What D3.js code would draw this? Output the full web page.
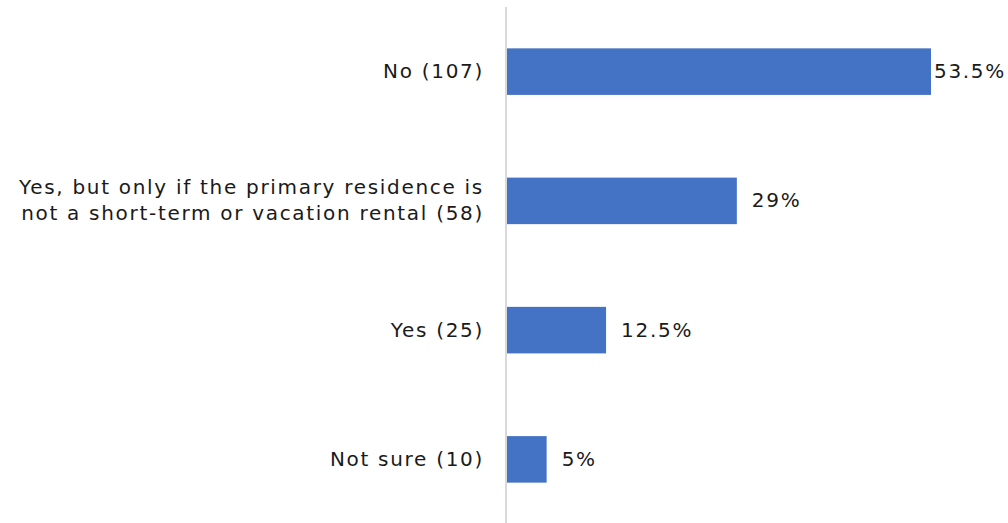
<!DOCTYPE html>
<html>
<head>
<meta charset="utf-8">
<script src="https://cdn.jsdelivr.net/npm/d3@7"></script>
<style>
  html, body { margin: 0; padding: 0; background: #ffffff; }
  svg { display: block; }
  text { font-family: "DejaVu Sans", sans-serif; fill: #1a1a1a; letter-spacing: 1.7px; }
</style>
</head>
<body>
<svg id="chart" width="1008" height="523"></svg>
<script>
// Survey answers (label lines) and their shares in percent
const categories = [
  ["No (107)"],
  ["Yes, but only if the primary residence is", "not a short-term or vacation rental (58)"],
  ["Yes (25)"],
  ["Not sure (10)"]
];
const values = [53.5, 29, 12.5, 5];
const valueLabels = ["53.5%", "29%", "12.5%", "5%"];

const W = 1008, H = 523;
const axisX = 507;
const svg = d3.select("#chart");

const x = d3.scaleLinear().domain([0, 53.5]).range([axisX, 931]);
const y = d3.scaleBand().domain(d3.range(categories.length)).range([7, 524]).paddingInner(0.64).paddingOuter(0.32);

// Bars
svg.append("g").selectAll("rect")
  .data(values)
  .join("rect")
  .attr("x", x(0))
  .attr("y", (d, i) => y(i))
  .attr("width", d => x(d) - x(0))
  .attr("height", y.bandwidth())
  .attr("fill", "#4472C4");

// Vertical category axis line
svg.append("line")
  .attr("x1", axisX - 1).attr("x2", axisX - 1)
  .attr("y1", 7).attr("y2", H)
  .attr("stroke", "#d9d9d9").attr("stroke-width", 2);

// Category labels, right-aligned left of the axis
const fs = 20, lh = 26;
const cat = svg.append("g").selectAll("text")
  .data(categories)
  .join("text")
  .attr("text-anchor", "end")
  .attr("font-size", fs)
  .attr("y", (d, i) => y(i) + y.bandwidth() / 2 - (d.length - 1) * lh / 2 + 6.5);
cat.selectAll("tspan")
  .data(d => d)
  .join("tspan")
  .attr("x", axisX - 23)
  .attr("dy", (d, j) => j === 0 ? 0 : lh)
  .text(d => d);

// Value labels to the right of each bar, kept inside the frame
svg.append("g").selectAll("text")
  .data(values)
  .join("text")
  .attr("font-size", fs)
  .attr("y", (d, i) => y(i) + y.bandwidth() / 2 + 6.5)
  .text((d, i) => valueLabels[i])
  .each(function(d) {
    const w = this.getComputedTextLength();
    const pos = Math.min(x(d) + 15, W - 2 - w);
    d3.select(this).attr("x", pos);
  });
</script>
</body>
</html>
